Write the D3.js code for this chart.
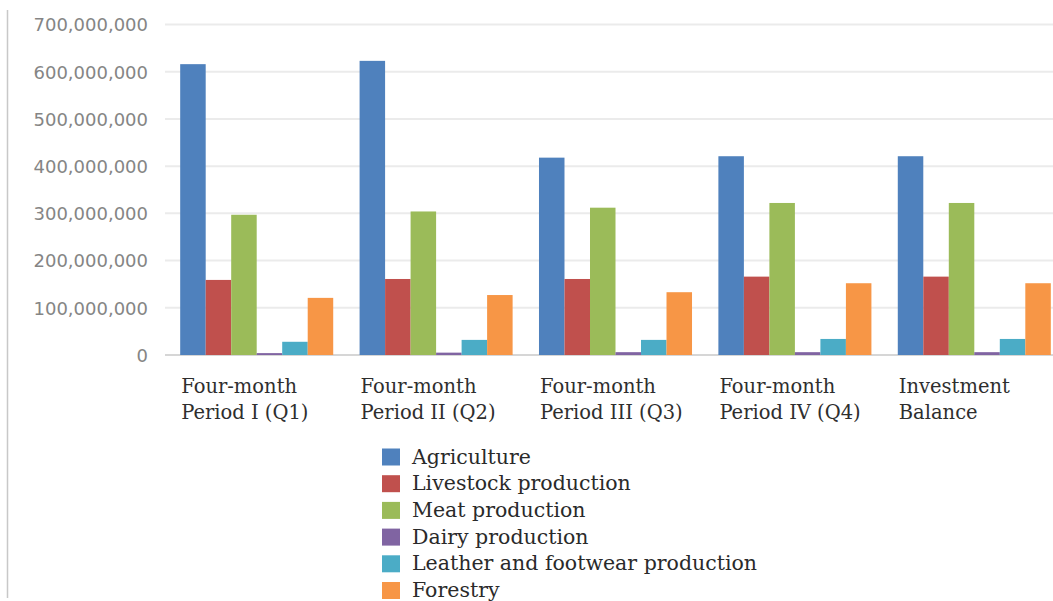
<!DOCTYPE html>
<html>
<head>
<meta charset="utf-8">
<script src="https://cdn.jsdelivr.net/npm/d3@7"></script>
<style>
  body { margin: 0; background: #fff; }
  svg { display: block; }
  .ylab { font-family: "DejaVu Sans", sans-serif; font-size: 18px; fill: #858585; }
  .xlab { font-family: "DejaVu Serif", serif; font-size: 19.5px; fill: #2e2e2e; }
  .leg { font-family: "DejaVu Serif", serif; font-size: 20.5px; fill: #2a2a2a; }
</style>
</head>
<body>
<div id="chart"></div>
<script>
// data
var categories = ["Q1", "Q2", "Q3", "Q4", "Balance"];
var categoryLabels = [
    ["Four-month", "Period I (Q1)"],
    ["Four-month", "Period II (Q2)"],
    ["Four-month", "Period III (Q3)"],
    ["Four-month", "Period IV (Q4)"],
    ["Investment", "Balance"]
];
var seriesNames = ["Agriculture", "Livestock production", "Meat production",
    "Dairy production", "Leather and footwear production", "Forestry"];
var seriesColors = ["#4f81bd", "#c0504d", "#9bbb59", "#8064a2", "#4bacc6", "#f79646"];

var agriculture = [616e6, 623e6, 418e6, 421e6, 421e6];
var livestock   = [159e6, 161e6, 161e6, 166e6, 166e6];
var meat        = [297e6, 304e6, 312e6, 322e6, 322e6];
var dairy       = [4e6, 5e6, 6e6, 6e6, 6e6];
var leather     = [28e6, 32e6, 32e6, 34e6, 34e6];
var forestry    = [121e6, 127e6, 133e6, 152e6, 152e6];
var seriesValues = [agriculture, livestock, meat, dairy, leather, forestry];

var yTicks = [0, 1e8, 2e8, 3e8, 4e8, 5e8, 6e8, 7e8];

var W = 1053, H = 601;

var svg = d3.select("#chart")
    .append("svg")
    .attr("width", W)
    .attr("height", H);

var x0 = d3.scaleBand()
    .domain(categories)
    .range([167, 1064])
    .paddingInner(0.147)
    .paddingOuter(0.0735);

var x1 = d3.scaleBand()
    .domain(d3.range(seriesNames.length))
    .range([0, x0.bandwidth()]);

var y = d3.scaleLinear()
    .domain([0, 7e8])
    .range([355, 24.5]);

// left frame line
svg.append("line")
    .attr("x1", 7.5).attr("x2", 7.5)
    .attr("y1", 10).attr("y2", 598)
    .style("stroke", "#c8c8c8")
    .attr("stroke-width", 1.5);

// gridlines
svg.append("g")
    .selectAll("line")
    .data(yTicks)
    .enter()
    .append("line")
    .attr("x1", 165)
    .attr("x2", W)
    .attr("y1", d => y(d))
    .attr("y2", d => y(d))
    .style("stroke", d => d === 0 ? "#d6d6d6" : "#ebebeb")
    .attr("stroke-width", 2);

// y axis labels
var yAxis = svg.append("g")
    .attr("transform", "translate(148,0)")
    .call(d3.axisLeft(y)
        .tickValues(yTicks)
        .tickSize(0)
        .tickPadding(0)
        .tickFormat(d3.format(",")));
yAxis.select(".domain").remove();
yAxis.selectAll("text")
    .attr("class", "ylab")
    .attr("fill", null)
    .attr("dy", "0.35em");
yAxis.attr("font-size", null).attr("font-family", null);

// bars
var groups = svg.append("g")
    .selectAll("g")
    .data(categories)
    .enter()
    .append("g")
    .attr("transform", d => "translate(" + x0(d) + ",0)");

groups.selectAll("rect")
    .data((d, i) => seriesValues.map((vals, s) => ({s: s, v: vals[i]})))
    .enter()
    .append("rect")
    .attr("x", d => x1(d.s))
    .attr("width", x1.bandwidth())
    .attr("y", d => y(d.v))
    .attr("height", d => y(0) - y(d.v))
    .style("fill", d => seriesColors[d.s]);

// category labels
categories.forEach((c, i) => {
    var t = svg.append("text")
        .attr("class", "xlab")
        .attr("x", x0(c) + 1)
        .attr("y", 393);
    categoryLabels[i].forEach((line, k) => {
        t.append("tspan")
            .attr("x", x0(c) + 1)
            .attr("dy", k === 0 ? 0 : 25.5)
            .text(line);
    });
});

// legend
var legend = svg.append("g")
    .selectAll("g")
    .data(seriesNames)
    .enter()
    .append("g")
    .attr("transform", (d, i) => "translate(382," + (463.5 + i * 26.7) + ")");

legend.append("rect")
    .attr("x", 0)
    .attr("y", -15)
    .attr("width", 18)
    .attr("height", 17)
    .style("fill", (d, i) => seriesColors[i]);

legend.append("text")
    .attr("class", "leg")
    .attr("x", 30)
    .attr("y", 0)
    .text(d => d);
</script>
</body>
</html>
